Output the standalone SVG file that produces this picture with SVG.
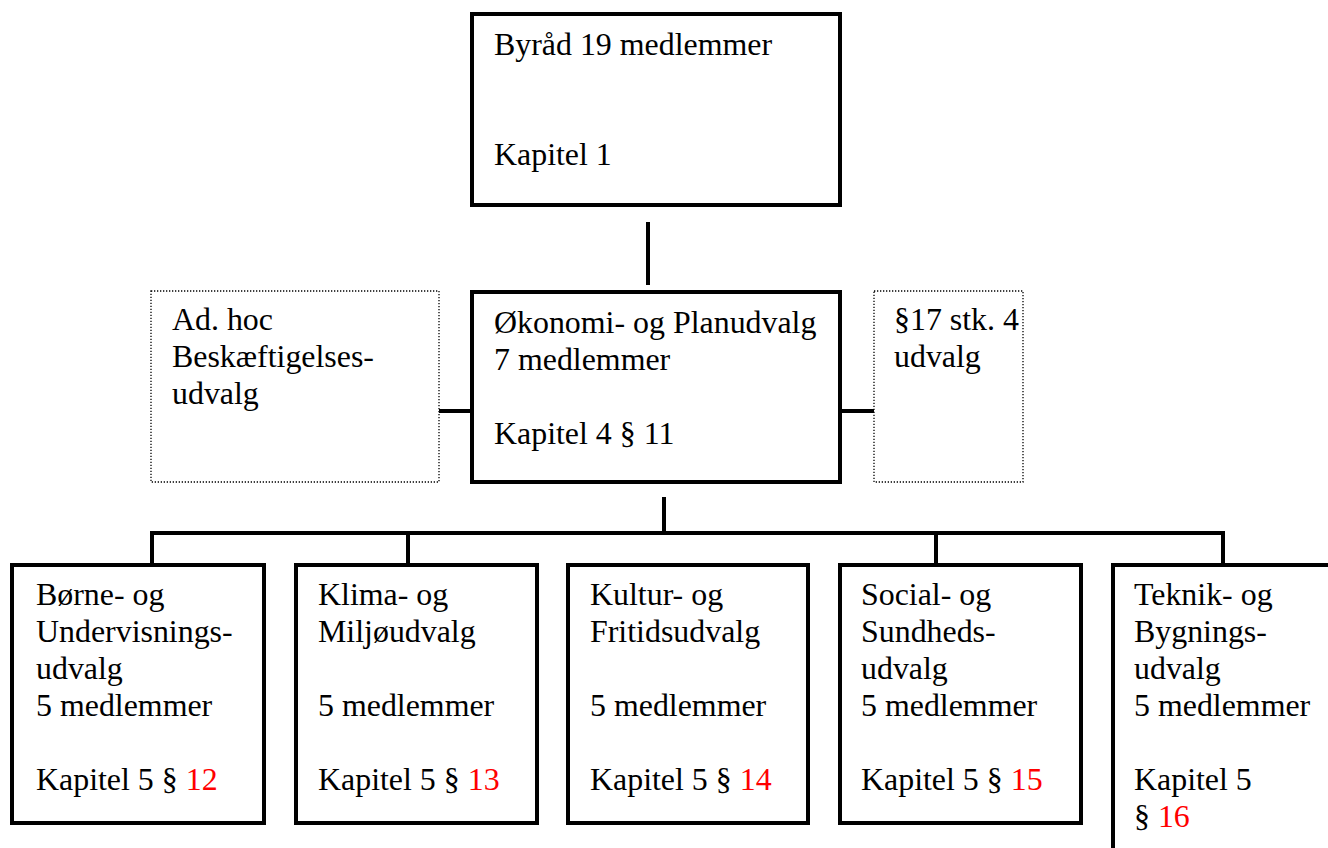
<svg xmlns="http://www.w3.org/2000/svg" width="1328" height="848" viewBox="0 0 1328 848">
<style>
.box{fill:#fff;stroke:#000;stroke-width:4}
.dot{fill:#fff;stroke:#000;stroke-width:1.3;stroke-dasharray:1.3 1.7}
.ln{fill:none;stroke:#000;stroke-width:4}
text{font-family:"Liberation Serif","Times New Roman",serif;font-size:31.9px;fill:#000}
.red{fill:#ff0000}
</style>
<rect width="1328" height="848" fill="#fff"/>
<g id="connectors">
<line class="ln" x1="648" y1="222" x2="648" y2="285"/>
<line class="ln" x1="439" y1="411" x2="472" y2="411"/>
<line class="ln" x1="842" y1="411" x2="874" y2="411"/>
<line class="ln" x1="664" y1="497" x2="664" y2="533"/>
<polyline class="ln" points="152,564 152,533 1223,533 1223,564"/>
<line class="ln" x1="408" y1="533" x2="408" y2="564"/>
<line class="ln" x1="936" y1="533" x2="936" y2="564"/>
</g>
<g id="byraad">
<rect class="box" x="472" y="14" width="368" height="191"/>
<text x="494" y="55">Byråd 19 medlemmer</text>
<text x="494" y="165">Kapitel 1</text>
</g>
<g id="adhoc">
<rect class="dot" x="151" y="291" width="288" height="191"/>
<text x="172" y="330">Ad. hoc</text>
<text x="172" y="367">Beskæftigelses-</text>
<text x="172" y="404">udvalg</text>
</g>
<g id="oekonomi">
<rect class="box" x="472" y="292" width="368" height="190"/>
<text x="494" y="333">Økonomi- og Planudvalg</text>
<text x="494" y="370">7 medlemmer</text>
<text x="494" y="444">Kapitel 4 § 11</text>
</g>
<g id="para17">
<rect class="dot" x="874" y="291" width="149" height="191"/>
<text x="894" y="330">§17 stk. 4</text>
<text x="894" y="367">udvalg</text>
</g>
<g id="boerne">
<rect class="box" x="12" y="565" width="252" height="258"/>
<text x="36" y="605">Børne- og</text>
<text x="36" y="642">Undervisnings-</text>
<text x="36" y="679">udvalg</text>
<text x="36" y="716">5 medlemmer</text>
<text x="36" y="790">Kapitel 5 § <tspan class="red">12</tspan></text>
</g>
<g id="klima">
<rect class="box" x="296" y="565" width="241" height="258"/>
<text x="318" y="605">Klima- og</text>
<text x="318" y="642">Miljøudvalg</text>
<text x="318" y="716">5 medlemmer</text>
<text x="318" y="790">Kapitel 5 § <tspan class="red">13</tspan></text>
</g>
<g id="kultur">
<rect class="box" x="568" y="565" width="240" height="258"/>
<text x="590" y="605">Kultur- og</text>
<text x="590" y="642">Fritidsudvalg</text>
<text x="590" y="716">5 medlemmer</text>
<text x="590" y="790">Kapitel 5 § <tspan class="red">14</tspan></text>
</g>
<g id="social">
<rect class="box" x="840" y="565" width="241" height="258"/>
<text x="861" y="605">Social- og</text>
<text x="861" y="642">Sundheds-</text>
<text x="861" y="679">udvalg</text>
<text x="861" y="716">5 medlemmer</text>
<text x="861" y="790">Kapitel 5 § <tspan class="red">15</tspan></text>
</g>
<g id="teknik">
<rect class="box" x="1113" y="565" width="240" height="300"/>
<text x="1134" y="605">Teknik- og</text>
<text x="1134" y="642">Bygnings-</text>
<text x="1134" y="679">udvalg</text>
<text x="1134" y="716">5 medlemmer</text>
<text x="1134" y="790">Kapitel 5</text>
<text x="1134" y="827">§ <tspan class="red">16</tspan></text>
</g>
</svg>
